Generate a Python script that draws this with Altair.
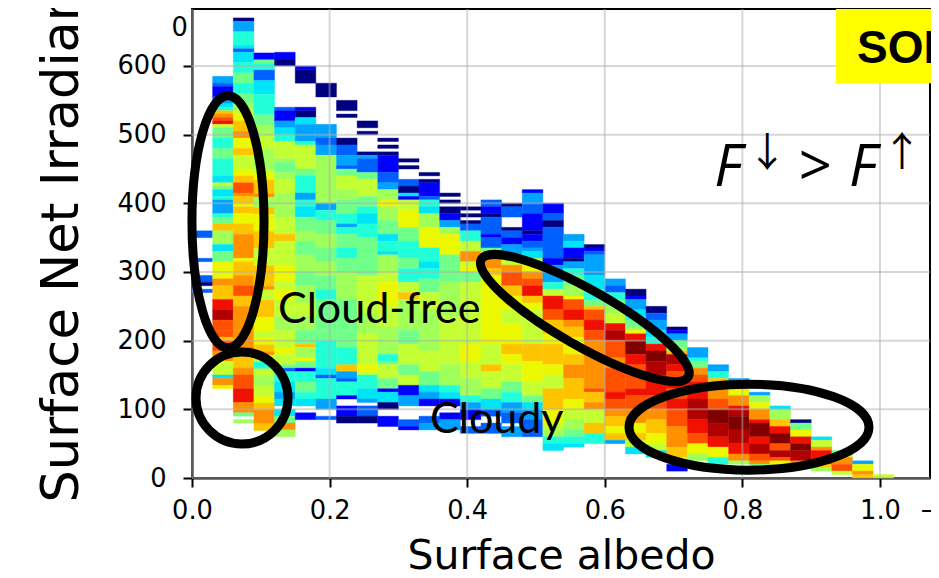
import altair as alt
import pandas as pd

# Each column: (top value of first run, runs top-down "level:count"; each count step = 5 W/m2; x = gap)
col_00 = (360, "2:2 x:6 2:1 x:4 2:2 0:1 x:1 2:1")
col_01 = (585, "3:2 2:1 1:3 2:1 3:1 4:1 5:1 a:1 b:1 c:1 d:1 8:1 6:3 5:3 6:3 5:3 5:2 4:2 8:1 6:1 4:2 5:1 3:4 5:1 6:2 a:2 7:4 4:2 6:3 9:5 b:2 a:4 d:3 e:3 c:3 c:2 a:1 c:3 b:3 8:4 4:1 b:2 9:1")
col_02 = (670, "0:1 3:3 5:4 4:1 2:1 4:3 5:3 6:3 5:3 6:3 7:2 8:1 9:2 a:3 b:2 9:3 a:2 8:4 9:2 a:2 c:3 b:1 a:2 9:1 a:2 9:3 a:3 b:7 9:1 a:4 b:3 c:3 a:3 b:7 b:5 c:2 a:4 b:2 c:4 d:4 b:3 6:1 x:1 7:1")
col_03 = (619, "1:2 6:1 5:2 2:3 4:4 5:6 6:3 7:3 8:4 7:6 8:1 9:2 a:4 b:1 7:3 a:2 9:5 a:5 8:5 a:6 b:1 8:3 a:5 9:4 8:2 9:2 a:2 b:1 8:2 5:2 8:2 7:3 8:3 9:2 a:2 b:4 a:2")
col_04 = (620, "1:2 0:2 x:12 2:1 1:3 3:2 4:2 5:2 8:5 7:1 6:3 7:2 8:4 7:7 8:5 a:2 8:7 9:5 8:2 9:3 8:5 7:4 8:5 9:2 8:3 6:1 2:1 5:3 4:3 3:2 4:2 x:1 4:2 6:2 b:2 7:2")
col_05 = (600, "1:1 0:4 x:7 1:1 0:2 4:2 3:5 5:1 8:7 6:2 5:5 3:2 5:2 4:3 6:4 7:3 6:4 7:5 6:4 7:5 8:4 7:4 6:4 a:1 7:3 9:1 6:2 1:1 5:3 6:3 5:2 4:2 x:2 1:2")
col_06 = (575, "0:4 x:8 3:4 2:2 3:3 7:4 7:10 3:2 5:3 6:4 7:4 6:4 7:4 6:4 5:3 6:9 6:3 5:8 4:2 2:1 5:6 3:3 x:2 2:1")
col_07 = (550, "0:3 x:1 0:1 x:6 0:2 2:3 3:3 2:1 6:2 8:4 7:3 6:4 5:3 3:1 5:2 6:4 5:3 6:4 7:8 6:9 6:5 5:5 a:2 3:2 2:1 5:4 1:1 x:2 1:3 0:2")
col_08 = (520, "0:2 x:1 0:1 x:5 0:1 3:1 2:4 6:2 8:5 6:3 5:2 4:3 5:4 6:8 6:3 8:11 7:6 8:9 9:2 8:1 5:4 4:3 3:1 x:1 2:3 0:2")
col_09 = (495, "0:1 x:1 0:1 x:1 0:1 1:5 2:3 3:2 7:3 9:2 7:4 6:4 4:2 5:3 4:1 7:5 8:3 9:7 8:6 7:8 5:2 6:1 8:4 6:3 1:1 4:3 0:2 x:2 1:3")
col_10 = (465, "0:1 x:1 0:1 x:3 2:2 0:2 4:1 1:1 8:3 9:5 6:4 5:5 6:3 5:4 8:3 a:2 7:9 6:4 8:6 6:3 8:3 1:3 3:3 x:4 2:2 1:1")
col_11 = (445, "0:1 x:1 0:1 1:4 2:1 5:2 4:2 7:4 9:6 5:4 4:2 5:3 6:4 8:5 7:12 8:6 6:4 4:2 3:2 1:2 x:3 2:2 3:2")
col_12 = (415, "0:1 x:1 0:1 x:1 0:2 1:2 3:2 7:2 9:6 6:4 6:4 7:10 8:14 7:6 5:2 4:2 1:2 x:2 1:2 3:3")
col_13 = (395, "0:1 x:1 0:1 x:1 0:1 2:2 5:3 8:3 b:3 8:1 9:2 6:3 8:18 9:5 8:5 7:5 5:2 3:2 1:3 x:2 2:2")
col_14 = (405, "2:2 1:2 0:1 2:5 1:1 2:3 6:1 9:2 b:3 a:2 9:20 8:6 a:2 8:5 6:3 4:3 2:2 x:2 2:3")
col_15 = (400, "0:1 2:3 x:3 0:1 2:2 1:2 3:3 8:3 b:2 c:4 a:3 9:4 8:4 9:6 a:3 9:3 8:5 6:3 5:3 3:3 2:3 x:1 3:3")
col_16 = (420, "1:1 3:3 2:3 1:5 0:1 1:2 2:2 3:1 4:2 7:2 9:2 b:2 c:2 d:3 a:2 9:2 8:10 a:5 9:6 8:4 6:2 4:2 3:3 2:5")
col_17 = (400, "1:3 2:2 0:2 2:9 1:2 3:5 5:2 8:2 d:4 c:3 a:4 9:3 a:6 9:3 8:4 a:6 9:4 8:2 7:2 5:2 4:2")
col_18 = (355, "3:2 4:2 1:3 0:1 3:2 5:2 6:3 7:3 9:1 c:3 d:3 b:2 a:3 9:5 a:3 b:4 a:6 9:3 8:3 7:3 6:2 5:2 4:1")
col_19 = (340, "0:1 1:1 2:1 3:6 4:4 5:3 6:2 a:1 c:3 d:3 c:3 b:14 c:1 a:3 b:2 8:4 a:3 5:3")
col_20 = (290, "3:2 2:2 5:2 6:2 7:2 8:3 d:2 e:3 c:5 b:3 c:7 d:2 c:3 b:2 a:3 9:2 a:2 3:1")
col_21 = (275, "0:2 1:1 3:3 4:2 5:1 6:2 7:1 9:1 d:2 f:4 d:3 c:7 d:2 c:4 b:4 9:3 a:2 8:2 4:2")
col_22 = (250, "0:2 2:2 3:3 4:2 5:2 d:2 f:3 e:4 d:6 c:4 b:3 a:4 9:3 8:2 4:2")
col_23 = (220, "0:1 1:1 3:2 6:2 7:1 a:1 e:3 d:2 c:2 d:3 c:3 d:3 c:5 b:6 a:3 8:2 1:2")
col_24 = (190, "3:3 5:1 6:2 b:2 c:2 d:5 e:6 d:4 c:3 9:3 7:2")
col_25 = (165, "3:2 5:2 a:2 b:4 c:3 f:4 e:4 d:3 9:3 5:2")
col_26 = (145, "3:1 8:2 9:2 b:3 d:1 e:2 f:4 e:4 d:3 b:2 7:1")
col_27 = (125, "3:1 7:2 9:2 b:3 d:1 f:4 d:2 e:3 c:2 b:1 6:1")
col_28 = (105, "4:1 7:3 a:2 d:2 f:3 c:2 e:2 c:1 9:2")
col_29 = (85, "0:1 6:2 9:2 d:2 f:2 e:3 b:1 7:1")
col_30 = (60, "4:1 8:2 b:1 d:4 a:1 7:1")
col_31 = (40, "6:1 8:1 b:2 c:2 8:1")
col_32 = (25, "3:1 9:2 b:1 a:1")
col_33 = (5, "8:1")
columns = [col_00, col_01, col_02, col_03, col_04, col_05, col_06, col_07, col_08,
           col_09, col_10, col_11, col_12, col_13, col_14, col_15, col_16, col_17,
           col_18, col_19, col_20, col_21, col_22, col_23, col_24, col_25, col_26,
           col_27, col_28, col_29, col_30, col_31, col_32, col_33]

level_values = list(range(16))
level_colors = ["#00007f", "#0000ff", "#0060ff", "#00a4ff", "#00e4f8", "#20ffd8",
                "#70ff88", "#a0ff58", "#c4ff33", "#ecf800", "#ffc400", "#ff9000",
                "#ff5000", "#f01000", "#b00000", "#800000"]

x_ticks = [0.0, 0.2, 0.4, 0.6, 0.8, 1.0]
y_ticks = [0, 100, 200, 300, 400, 500, 600]

ell_x = [0.0523, 0.0727, 0.571, 0.8096]
ell_y = [373, 116.5, 233, 74]
ell_major = [126, 46, 119, 120]
ell_ratio = [0.286, 1.0, 0.235, 0.358]
ell_angle = [90, 0, 29.6, 0]

rows = []
for i, (top, runs) in enumerate(columns):
    v = top
    for tok in runs.split():
        ch, n = tok.split(":")
        n = int(n)
        if ch != "x":
            rows.append({"x0": round(i * 0.03, 2), "x1": round((i + 1) * 0.03, 2),
                         "y1": v, "y0": v - n * 5, "level": int(ch, 16)})
        v -= n * 5
cells = pd.DataFrame(rows)

xs = alt.Scale(domain=[0, 1.0727], nice=False, zero=False)
ys = alt.Scale(domain=[0, 683], nice=False, zero=False)
color_scale = alt.Scale(domain=level_values, range=level_colors, interpolate="rgb")

heat = alt.Chart(cells).mark_rect(strokeWidth=0.4).encode(
    x=alt.X("x0:Q", scale=xs,
            axis=alt.Axis(values=x_ticks, format=".1f", title="Surface albedo", grid=False,
                          ticks=True, labelFont="DejaVu Sans", labelFontSize=25.7, labelColor="black",
                          tickSize=9, tickWidth=2, tickColor="black", domainColor="black",
                          domainWidth=2, labelPadding=11, labelFlush=False,
                          titleFont="DejaVu Sans", titleFontSize=41, titleFontWeight="normal",
                          titleColor="black", titleY=90, titleBaseline="alphabetic")),
    x2="x1:Q",
    y=alt.Y("y0:Q", scale=ys,
            axis=alt.Axis(values=y_ticks, title="Surface Net Irradiance", grid=False,
                          ticks=True, labelFont="DejaVu Sans", labelFontSize=25.7, labelColor="black",
                          tickSize=9, tickWidth=2, tickColor="black", domainColor="black",
                          domainWidth=2, labelPadding=17, labelFlush=False,
                          titleFont="DejaVu Sans", titleFontSize=51, titleFontWeight="normal",
                          titleColor="black", titleAngle=270, titleAlign="left",
                          titleBaseline="alphabetic", titleX=-115, titleY=493)),
    y2="y1:Q",
    color=alt.Color("level:Q", scale=color_scale, legend=None),
    stroke=alt.Stroke("level:Q", scale=color_scale, legend=None),
)

grid_x = alt.Chart(pd.DataFrame({"x": x_ticks})).mark_rule(color="#b0b0b0", strokeWidth=2, opacity=0.5).encode(
    x=alt.X("x:Q", scale=xs))
grid_y = alt.Chart(pd.DataFrame({"y": y_ticks})).mark_rule(color="#b0b0b0", strokeWidth=2, opacity=0.5).encode(
    y=alt.Y("y:Q", scale=ys))

box = alt.Chart(pd.DataFrame({"a": [0.936], "b": [1.09], "c": [575], "d": [683]})).mark_rect(color="#ffff00").encode(
    x=alt.X("a:Q", scale=xs), x2="b:Q", y=alt.Y("c:Q", scale=ys), y2="d:Q")


def label(text, x, y, **kw):
    return alt.Chart(pd.DataFrame({"t": [text], "x": [x], "y": [y]})).mark_text(
        align=kw.pop("align", "left"), baseline="alphabetic", color="black", **kw).encode(
        x=alt.X("x:Q", scale=xs), y=alt.Y("y:Q", scale=ys), text="t:N")


texts = [
    label("SOL", 0.9666, 604, font="Liberation Sans", fontWeight="bold", fontSize=46),
    label("Cloud-free", 0.125, 226, font="Lato", fontSize=43),
    label("Cloudy", 0.346, 65, font="Lato", fontSize=43),
    label("F", 0.759, 425, font="Open Sans", fontStyle="italic", fontSize=58),
    label("↓", 0.807, 455, font="Noto Sans CJK SC", fontSize=40),
    label(">", 0.882, 425, font="Open Sans", fontSize=58),
    label("F", 0.955, 425, font="Open Sans", fontStyle="italic", fontSize=58),
    label("↑", 1.003, 455, font="Noto Sans CJK SC", fontSize=40),
    label("0", -0.006, 644, font="DejaVu Sans", fontSize=25.7, align="right"),
    label("−", 1.057, -60, font="DejaVu Sans", fontSize=25.7),
]

ell = pd.DataFrame({
    "x": ell_x, "y": ell_y, "angle": ell_angle,
    "size": [(2 * r) ** 2 for r in ell_major],
    "shape": [f"M-1,0A1,{b} 0 1,1 1,0A1,{b} 0 1,1 -1,0Z" for b in ell_ratio],
})
ellipses = alt.Chart(ell).mark_point(filled=False, stroke="black", strokeWidth=9, opacity=1).encode(
    x=alt.X("x:Q", scale=xs), y=alt.Y("y:Q", scale=ys),
    shape=alt.Shape("shape:N", scale=None),
    size=alt.Size("size:Q", scale=None),
    angle=alt.Angle("angle:Q", scale=None),
)

chart = alt.layer(heat, grid_x, grid_y, box, *texts, ellipses).properties(
    width=738, height=469,
    padding={"left": 184, "top": 1, "right": 1, "bottom": 92},
    autosize=alt.AutoSizeParams(type="none"),
).configure_view(stroke="black", strokeWidth=2).resolve_scale(color="shared")

chart.save("out.html", embed_options={"renderer": "svg", "actions": False})
